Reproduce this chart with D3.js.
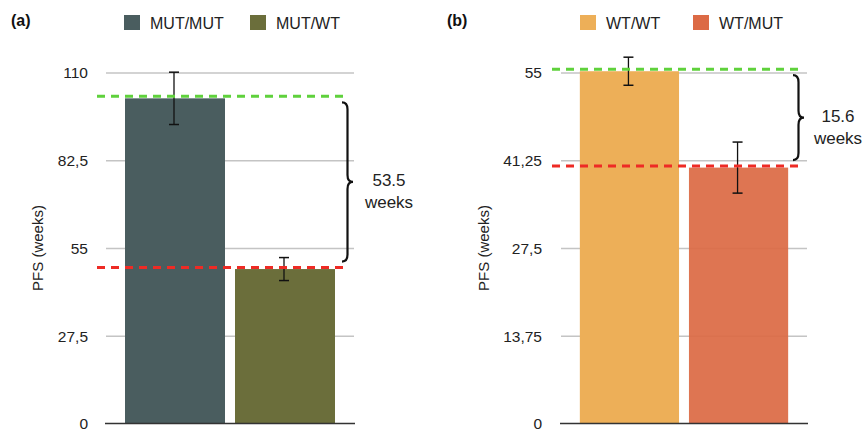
<!DOCTYPE html>
<html><head><meta charset="utf-8">
<script src="https://cdn.jsdelivr.net/npm/d3@7/dist/d3.min.js"></script>
<style>body{margin:0;background:#fff}svg{display:block}text{font-family:"Liberation Sans",Arial,sans-serif}</style>
</head><body>
<svg id="c" width="867" height="432"></svg>
<script>
// Panel (a)
const catsA = ["MUT/MUT", "MUT/WT"];
const valsA = [101.9, 48.4];
const errA = [8.2, 3.6];
const ticksA = [0, 27.5, 55, 82.5, 110];
const tickLabelsA = ["0", "27,5", "55", "82,5", "110"];
const colorsA = ["#4a5d5f", "#6b6e3b"];
const diffLabelA = "53.5";
// Panel (b)
const catsB = ["WT/WT", "WT/MUT"];
const valsB = [55.2, 40.1];
const errB = [2.2, 4.0];
const ticksB = [0, 13.75, 27.5, 41.25, 55];
const tickLabelsB = ["0", "13,75", "27,5", "41,25", "55"];
const colorsB = ["#edaf58", "#dc6a45"];
const diffLabelB = "15.6";

const svg = d3.select("#c");

function panel(o) {
  const g = svg.append("g");
  const x = d3.scaleBand().domain(o.cats).range([o.x0, o.x1]).paddingInner(0.0909).paddingOuter(0.1818);
  const y = d3.scaleLinear().domain([0, o.ticks[o.ticks.length-1]]).range([423.5, 72.5]);
  // gridlines
  const grid = d3.axisLeft(y).tickValues(o.ticks.slice(1)).tickSize(-(o.x1 - o.x0 - 2)).tickFormat("");
  const gg = g.append("g").attr("transform", `translate(${o.x0+1},0)`).call(grid);
  gg.select(".domain").remove();
  gg.selectAll("line").attr("stroke", "#c4c4c4").attr("stroke-width", 1.5);
  // tick labels
  const ax = d3.axisLeft(y).tickValues(o.ticks).tickSize(0).tickPadding(0).tickFormat((d,i)=>o.labels[i]);
  const ag = g.append("g").attr("transform", `translate(${o.labelX},0)`).call(ax);
  ag.select(".domain").remove();
  ag.selectAll("text").attr("font-size", 15.5).attr("fill", "#222").attr("font-family", '"Liberation Sans",Arial,sans-serif').attr("dy", "0.35em");
  // bars
  g.selectAll("rect.bar").data(o.cats).join("rect").attr("class","bar")
    .attr("x", d => x(d)).attr("width", x.bandwidth())
    .attr("y", (d,i) => y(o.vals[i])).attr("height", (d,i) => y(0) - y(o.vals[i]))
    .attr("fill", (d,i) => o.colors[i]).attr("fill-opacity", (d,i)=> i===1 && o.fade ? 0.93 : 1);
  // baseline
  g.append("line").attr("x1", o.x0).attr("x2", o.x1).attr("y1", y(0)).attr("y2", y(0)).attr("stroke", "#333").attr("stroke-width", 1.5);
  // error bars
  o.cats.forEach((c,i) => {
    const cx = x(c) + x.bandwidth()/2 - 1;
    const t = y(o.vals[i] + o.err[i]), b = y(o.vals[i] - o.err[i]);
    g.append("line").attr("x1", cx).attr("x2", cx).attr("y1", t).attr("y2", b).attr("stroke", "#111").attr("stroke-width", 1.3);
    [t,b].forEach(yy => g.append("line").attr("x1", cx-5).attr("x2", cx+5).attr("y1", yy).attr("y2", yy).attr("stroke", "#111").attr("stroke-width", 1.5));
  });
  // dashed reference lines
  const yG = y(o.vals[0]) - 2, yR = y(o.vals[1]) - 1.5;
  [[yG, "#5fd13c"], [yR, "#ee2b25"]].forEach(([yy, col]) => {
    g.append("line").attr("x1", o.x0 - 8).attr("x2", o.x1 - 8).attr("y1", yy).attr("y2", yy)
      .attr("stroke", col).attr("stroke-width", 3).attr("stroke-dasharray", "8,6");
  });
  // brace
  const bx = o.x1 - o.braceOff, w = 11, y1 = yG + 6, y2 = yR - 6, ym = (y1 + y2)/2, k = 7;
  const p = `M${bx},${y1} Q${bx+w/2},${y1} ${bx+w/2},${y1+k} L${bx+w/2},${ym-k} Q${bx+w/2},${ym} ${bx+w},${ym} Q${bx+w/2},${ym} ${bx+w/2},${ym+k} L${bx+w/2},${y2-k} Q${bx+w/2},${y2} ${bx},${y2}`;
  g.append("path").attr("d", p).attr("fill", "none").attr("stroke", "#111").attr("stroke-width", 2.2);
  const tx = bx + o.textOff;
  g.append("text").attr("x", tx).attr("y", ym + 4).attr("text-anchor", "middle").attr("font-size", 17).attr("fill", "#222").text(o.diff);
  g.append("text").attr("x", tx).attr("y", ym + 26).attr("text-anchor", "middle").attr("font-size", 17).attr("fill", "#222").text("weeks");
  // y label
  g.append("text").attr("transform", `translate(${o.ylabX},248) rotate(-90)`).attr("text-anchor", "middle")
    .attr("font-size", 15).attr("fill", "#222").text("PFS (weeks)");
  // legend
  o.cats.forEach((c,i) => {
    const lx = o.legX[i];
    g.append("rect").attr("x", lx).attr("y", 15).attr("width", 16).attr("height", 15).attr("fill", o.colors[i]);
    g.append("text").attr("x", lx + 26).attr("y", 29).attr("font-size", 16).attr("fill", "#222").text(c);
  });
  // panel label
  g.append("text").attr("x", o.tagX).attr("y", 26).attr("font-size", 16).attr("font-weight", "bold").attr("fill", "#111").text(o.tag);
}

panel({cats: catsA, vals: valsA, err: errA, ticks: ticksA, labels: tickLabelsA, colors: colorsA, diff: diffLabelA,
  x0: 105, x1: 355, labelX: 88, ylabX: 43, braceOff: 13, textOff: 47, legX: [124, 250], tagX: 11, tag: "(a)", fade: false});
panel({cats: catsB, vals: valsB, err: errB, ticks: ticksB, labels: tickLabelsB, colors: colorsB, diff: diffLabelB,
  x0: 560, x1: 808, labelX: 542, ylabX: 489, braceOff: 15, textOff: 45, legX: [580, 693], tagX: 447, tag: "(b)", fade: true});
</script>
</body></html>
